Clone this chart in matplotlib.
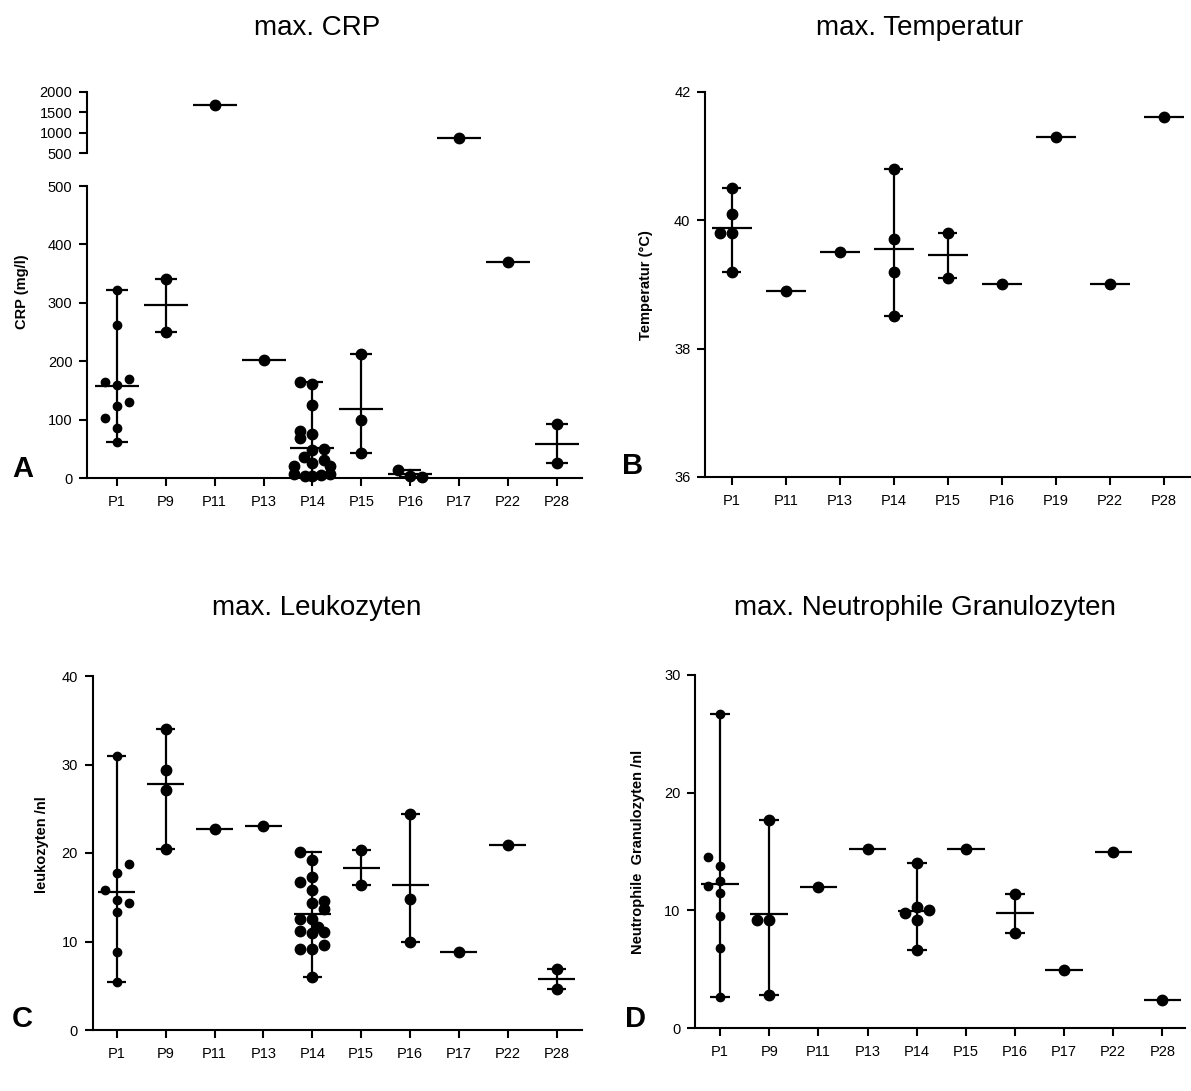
import numpy as np
import matplotlib
matplotlib.use('Agg')
import matplotlib.pyplot as plt

plt.rcParams['font.family'] = ['Liberation Sans', 'DejaVu Sans']

# ------------------------------------------------------------
# Daten: Maximalwerte je Patient (Einzelwerte pro Episode)
# ------------------------------------------------------------
crp_cats = ['P1', 'P9', 'P11', 'P13', 'P14', 'P15', 'P16', 'P17', 'P22', 'P28']
crp_p1 = [322, 262, 165, 160, 170, 123, 130, 102, 86, 62]
crp_p9 = [341, 250]
crp_p11 = [1680]
crp_p13 = [202]
crp_p14 = [165, 161, 125, 80, 68, 75, 48, 49, 36, 26, 21, 31, 21, 6, 4, 3, 5, 6]
crp_p15 = [213, 100, 43]
crp_p16 = [13, 3, 2]
crp_p17 = [870]
crp_p22 = [370]
crp_p28 = [92, 25]

temp_cats = ['P1', 'P11', 'P13', 'P14', 'P15', 'P16', 'P19', 'P22', 'P28']
temp_p1 = [40.5, 40.1, 39.8, 39.8, 39.2]
temp_p11 = [38.9]
temp_p13 = [39.5]
temp_p14 = [40.8, 39.7, 39.2, 38.5]
temp_p15 = [39.8, 39.1]
temp_p16 = [39.0]
temp_p19 = [41.3]
temp_p22 = [39.0]
temp_p28 = [41.6]

leuko_cats = ['P1', 'P9', 'P11', 'P13', 'P14', 'P15', 'P16', 'P17', 'P22', 'P28']
leuko_p1 = [31.0, 18.8, 17.7, 15.8, 14.7, 14.4, 13.3, 8.8, 5.4]
leuko_p9 = [34.0, 29.4, 27.1, 20.5]
leuko_p11 = [22.7]
leuko_p13 = [23.0]
leuko_p14 = [20.1, 19.2, 17.3, 16.7, 15.8, 14.6, 14.4, 13.7, 12.5, 12.5,
             11.6, 11.2, 11.0, 11.1, 9.6, 9.2, 9.1, 6.0]
leuko_p15 = [20.3, 16.4]
leuko_p16 = [24.4, 14.8, 10.0]
leuko_p17 = [8.8]
leuko_p22 = [20.9]
leuko_p28 = [6.9, 4.6]

neutro_cats = ['P1', 'P9', 'P11', 'P13', 'P14', 'P15', 'P16', 'P17', 'P22', 'P28']
neutro_p1 = [26.7, 14.5, 13.8, 12.5, 12.1, 11.5, 9.5, 6.8, 2.6]
neutro_p9 = [17.7, 9.2, 9.2, 2.8]
neutro_p11 = [12.0]
neutro_p13 = [15.2]
neutro_p14 = [14.0, 9.8, 10.3, 10.0, 9.2, 6.6]
neutro_p15 = [15.2]
neutro_p16 = [11.4, 8.1]
neutro_p17 = [4.9]
neutro_p22 = [15.0]
neutro_p28 = [2.4]

# seitliche Verschiebung der Punkte (in Punktbreiten), damit sie sich nicht verdecken
crp_dx = {0: [0, 0, -1, 0, 1, 0, 1, -1, 0, 0],
          4: [-1, 0, 0, -1, -1, 0, 0, 1, -0.7, 0, -1.5, 1, 1.5, -1.5, -0.6, 0, 0.7, 1.5],
          6: [-1, 0, 1]}
temp_dx = {0: [0, 0, -1, 0, 0]}
leuko_dx = {0: [0, 1, 0, -1, 0, 1, 0, 0, 0],
            4: [-1, 0, 0, -1, 0, 1, 0, 1, -1, 0, 0.5, -1, 0, 1, 1, -1, 0, 0]}
neutro_dx = {0: [0, -1, 0, 0, -1, 0, 0, 0, 0],
             1: [0, -1, 0, 0],
             4: [0, -1, 0, 1, 0, 0]}

W, H = 1191, 1091
fig = plt.figure(figsize=(W / 100, H / 100), dpi=100)


def box(x0, y0, x1, y1):
    return [x0 / W, 1 - y1 / H, (x1 - x0) / W, (y1 - y0) / H]


def style(ax, cats, xlim, ylim, yticks, xaxis=True):
    ax.set_xlim(xlim)
    ax.set_ylim(ylim)
    ax.set_yticks(yticks)
    ax.spines['top'].set_visible(False)
    ax.spines['right'].set_visible(False)
    ax.spines['left'].set_linewidth(1.5)
    ax.spines['bottom'].set_linewidth(1.5)
    ax.tick_params(direction='out', length=5.5, width=1.5, labelsize=10.5, pad=5)
    if xaxis:
        ax.set_xticks(range(len(cats)))
        ax.set_xticklabels(cats)
        ax.tick_params(axis='x', pad=7)
    else:
        ax.spines['bottom'].set_visible(False)
        ax.set_xticks([])
    ax.patch.set_visible(False)


def draw_group(ax, i, vals, dx, ms, spacing, mean_hw, cap_hw, step=12):
    # Einzelwerte + Mittelwert + Spannweite (min-max)
    vals = np.asarray(vals, dtype=float)
    dx = np.zeros(len(vals)) if dx is None else np.asarray(dx, dtype=float)
    m = vals.mean()
    lw = 1.6
    ax.plot([i - mean_hw / spacing, i + mean_hw / spacing], [m, m],
            color='black', lw=lw, solid_capstyle='butt', zorder=2, clip_on=False)
    if len(vals) > 1:
        lo, hi = vals.min(), vals.max()
        ax.plot([i, i], [lo, hi], color='black', lw=lw, zorder=2, clip_on=False)
        for v in (lo, hi):
            ax.plot([i - cap_hw / spacing, i + cap_hw / spacing], [v, v],
                    color='black', lw=lw, solid_capstyle='butt', zorder=2, clip_on=False)
    ax.plot(i + dx * step / spacing, vals, 'o', ms=ms, color='black',
            mec='black', zorder=3, clip_on=False, ls='none')


# ------------------------------------------------------------
# A: CRP mit unterbrochener y-Achse
# ------------------------------------------------------------
ax_a = fig.add_axes(box(87, 186, 582, 478))
ax_a_top = fig.add_axes(box(87, 91.7, 582, 153.3))
style(ax_a, crp_cats, (-0.61, 9.51), (0, 500), range(0, 501, 100))
style(ax_a_top, crp_cats, (-0.61, 9.51), (500, 2000), [500, 1000, 1500, 2000], xaxis=False)

crp_groups = [crp_p1, crp_p9, crp_p11, crp_p13, crp_p14, crp_p15, crp_p16,
              crp_p17, crp_p22, crp_p28]
for i, g in enumerate(crp_groups):
    target = ax_a_top if min(g) > 500 else ax_a
    ms = 6 if i == 0 else 7.5
    draw_group(target, i, g, crp_dx.get(i), ms, 48.9, 22, 11)

# ------------------------------------------------------------
# B: Temperatur
# ------------------------------------------------------------
ax_b = fig.add_axes(box(705, 91.7, 1190, 477))
style(ax_b, temp_cats, (-0.5, 8.49), (36, 42), [36, 38, 40, 42])
temp_groups = [temp_p1, temp_p11, temp_p13, temp_p14, temp_p15, temp_p16,
               temp_p19, temp_p22, temp_p28]
for i, g in enumerate(temp_groups):
    draw_group(ax_b, i, g, temp_dx.get(i), 7.5, 53.95, 20, 9.5)

# ------------------------------------------------------------
# C: Leukozyten
# ------------------------------------------------------------
ax_c = fig.add_axes(box(92.5, 676, 582, 1030))
style(ax_c, leuko_cats, (-0.5, 9.52), (0, 40), [0, 10, 20, 30, 40])
leuko_groups = [leuko_p1, leuko_p9, leuko_p11, leuko_p13, leuko_p14, leuko_p15,
                leuko_p16, leuko_p17, leuko_p22, leuko_p28]
for i, g in enumerate(leuko_groups):
    ms = 6 if i == 0 else 7.5
    draw_group(ax_c, i, g, leuko_dx.get(i), ms, 48.9, 18.5, 9.5)

# ------------------------------------------------------------
# D: Neutrophile Granulozyten
# ------------------------------------------------------------
ax_d = fig.add_axes(box(695, 675, 1185, 1028))
style(ax_d, neutro_cats, (-0.51, 9.46), (0, 30), [0, 10, 20, 30])
neutro_groups = [neutro_p1, neutro_p9, neutro_p11, neutro_p13, neutro_p14,
                 neutro_p15, neutro_p16, neutro_p17, neutro_p22, neutro_p28]
for i, g in enumerate(neutro_groups):
    ms = 6 if i == 0 else 7.5
    draw_group(ax_d, i, g, neutro_dx.get(i), ms, 49.1, 18.7, 10)

# Titel, Achsentitel, Panelbuchstaben
titles = [(317, 28, 'max. CRP'), (920, 28, 'max. Temperatur'),
          (317, 608, 'max. Leukozyten'), (925, 608, 'max. Neutrophile Granulozyten')]
for x, y, t in titles:
    fig.text(x / W, 1 - y / H, t, ha='center', va='center', fontsize=20)

ylabels = [(22, 292, 'CRP (mg/l)'), (646, 285, 'Temperatur (°C)'),
           (42, 845, 'leukozyten /nl'), (638, 852, 'Neutrophile  Granulozyten /nl')]
for x, y, t in ylabels:
    fig.text(x / W, 1 - y / H, t, ha='center', va='center', rotation=90,
             fontsize=10.5, fontweight='bold')

letters = [(12, 477, 'A'), (622, 474, 'B'), (12, 1027, 'C'), (625, 1027, 'D')]
for x, y, t in letters:
    fig.text(x / W, 1 - y / H, t, ha='left', va='baseline', fontsize=21,
             fontweight='bold')

fig.savefig('out.png', dpi=100)
